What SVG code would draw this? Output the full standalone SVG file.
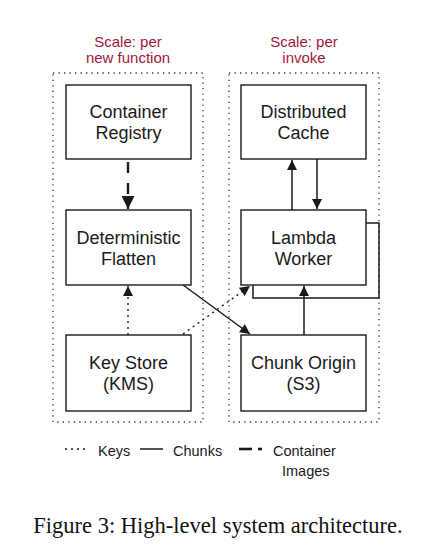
<svg xmlns="http://www.w3.org/2000/svg" width="428" height="556" viewBox="0 0 428 556">
<style>
.box{fill:#fff;stroke:#1a1a1a;stroke-width:1.4}
.grp{fill:none;stroke:#333;stroke-width:1.3;stroke-dasharray:1.3 4.2}
.t{font-family:"Liberation Sans",Arial,sans-serif;font-size:18px;fill:#1a1a1a;text-anchor:middle}
.s{font-family:"Liberation Sans",Arial,sans-serif;font-size:15px;fill:#a3173d;text-anchor:middle}
.l{font-family:"Liberation Sans",Arial,sans-serif;font-size:14.5px;fill:#1a1a1a}
.solid{fill:none;stroke:#1a1a1a;stroke-width:1.5}
.dot{fill:none;stroke:#1a1a1a;stroke-width:1.4;stroke-dasharray:2 4}
.dash{fill:none;stroke:#1a1a1a;stroke-width:2.4;stroke-dasharray:11 10}
</style>
<defs>
<marker id="ah" viewBox="0 0 10 10" refX="10" refY="5" markerWidth="12" markerHeight="10" markerUnits="userSpaceOnUse" orient="auto">
<path d="M0,0 L10,5 L0,10 z" fill="#1a1a1a"/>
</marker>
<marker id="ahb" viewBox="0 0 10 10" refX="10" refY="5" markerWidth="16" markerHeight="13" markerUnits="userSpaceOnUse" orient="auto">
<path d="M0,0 L10,5 L0,10 z" fill="#1a1a1a"/>
</marker>
</defs>
<rect width="428" height="556" fill="#fff"/>
<g id="group-new-function">
<text class="s" x="128" y="47">Scale: per</text>
<text class="s" x="128" y="63">new function</text>
<rect class="grp" x="53" y="73" width="150" height="349"/>
</g>
<g id="group-invoke">
<text class="s" x="304" y="47">Scale: per</text>
<text class="s" x="304" y="63">invoke</text>
<rect class="grp" x="229" y="73" width="150" height="349"/>
</g>
<g id="container-registry">
<rect class="box" x="66" y="85" width="125" height="74"/>
<text class="t" x="128.5" y="118">Container</text>
<text class="t" x="128.5" y="139">Registry</text>
</g>
<g id="distributed-cache">
<rect class="box" x="241" y="85" width="125" height="74"/>
<text class="t" x="303.5" y="118">Distributed</text>
<text class="t" x="303.5" y="139">Cache</text>
</g>
<g id="deterministic-flatten">
<rect class="box" x="66" y="210" width="125" height="75"/>
<text class="t" x="128.5" y="244">Deterministic</text>
<text class="t" x="128.5" y="265">Flatten</text>
</g>
<g id="lambda-worker">
<path class="solid" d="M366,223 H379 V298 H253 V285" stroke-width="1.4"/>
<rect class="box" x="241" y="210" width="125" height="75"/>
<text class="t" x="303.5" y="244">Lambda</text>
<text class="t" x="303.5" y="265">Worker</text>
</g>
<g id="key-store">
<rect class="box" x="66" y="335" width="125" height="76"/>
<text class="t" x="128.5" y="369">Key Store</text>
<text class="t" x="128.5" y="390">(KMS)</text>
</g>
<g id="chunk-origin">
<rect class="box" x="241" y="335" width="125" height="76"/>
<text class="t" x="303.5" y="369">Chunk Origin</text>
<text class="t" x="303.5" y="390">(S3)</text>
</g>
<g id="connectors">
<line class="dash" x1="128" y1="162" x2="128" y2="209" marker-end="url(#ahb)"/>
<line class="solid" x1="292" y1="210" x2="292" y2="160" marker-end="url(#ah)"/>
<line class="solid" x1="317" y1="159" x2="317" y2="209" marker-end="url(#ah)"/>
<line class="dot" x1="128" y1="335" x2="128" y2="286" marker-end="url(#ah)"/>
<line class="dot" x1="183" y1="334" x2="250" y2="286" marker-end="url(#ah)"/>
<line class="solid" x1="183" y1="285" x2="250" y2="334" marker-end="url(#ah)"/>
<line class="solid" x1="304" y1="335" x2="304" y2="286" marker-end="url(#ah)"/>
</g>
<g id="legend">
<line class="dot" x1="65" y1="449" x2="89" y2="449" stroke-dasharray="1.3 4"/>
<text class="l" x="98" y="456">Keys</text>
<line class="solid" x1="140" y1="449" x2="163" y2="449" stroke-width="1.3"/>
<text class="l" x="173" y="456">Chunks</text>
<line x1="239" y1="449" x2="252" y2="449" stroke="#1a1a1a" stroke-width="2.6"/>
<line x1="258" y1="449" x2="262" y2="449" stroke="#1a1a1a" stroke-width="2.6"/>
<text class="l" x="273" y="456" font-size="15">Container</text>
<text class="l" x="282" y="476" font-size="15">Images</text>
</g>
<text x="218" y="533" font-family="'Liberation Serif','Times New Roman',serif" font-size="22.5" fill="#111" text-anchor="middle">Figure 3: High-level system architecture.</text>
</svg>
